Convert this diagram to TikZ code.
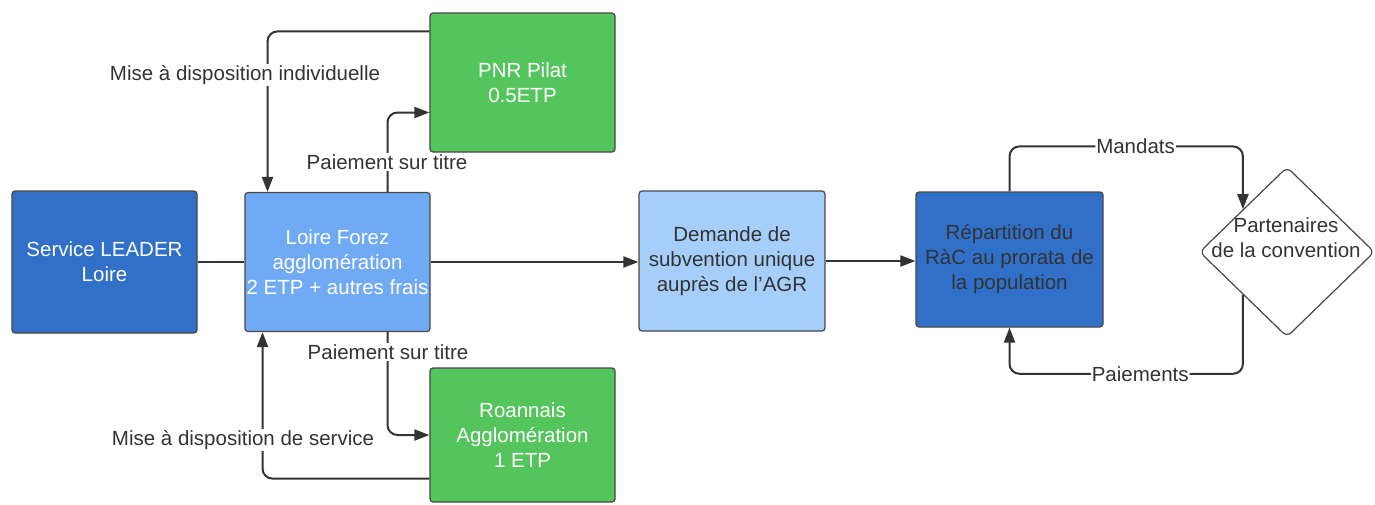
\documentclass[tikz,border=0pt]{standalone}
\usepackage{fontspec}
\setmainfont{Liberation Sans}
\usetikzlibrary{shapes.geometric,arrows.meta}
\definecolor{darkblue}{RGB}{48,112,200}
\definecolor{midblue}{RGB}{112,170,245}
\definecolor{paleblue}{RGB}{166,206,250}
\definecolor{boxgreen}{RGB}{84,196,92}
\definecolor{ink}{RGB}{51,51,51}
\tikzset{
  box/.style={draw=ink!90, line width=1.2pt, rounded corners=3pt, align=center,
    inner sep=0pt, font=\fontsize{20.5}{25}\selectfont},
  conn/.style={draw=ink, line width=2pt, rounded corners=10pt},
  arr/.style={conn, -{Triangle[length=15pt,width=11pt]}},
  lbl/.style={fill=white, text=ink, inner sep=1pt, font=\fontsize{20.5}{25}\selectfont},
}
\begin{document}
\begin{tikzpicture}[x=1pt,y=-1pt]
\useasboundingbox (0,0) rectangle (1375,504);
% boxes
\node[box, fill=darkblue, text=white, minimum width=185pt, minimum height=142pt] (sl) at (104.5,262) {Service LEADER\\Loire};
\node[box, fill=midblue, text=white, minimum width=185pt, minimum height=139pt] (lf) at (337.5,262) {Loire Forez\\agglomération\\2 ETP + autres frais};
\node[box, fill=boxgreen, text=white, minimum width=185pt, minimum height=139pt] (pnr) at (522.5,82.5) {PNR Pilat\\0.5ETP};
\node[box, fill=boxgreen, text=white, minimum width=185pt, minimum height=134pt] (ro) at (522.5,435) {Roannais\\Agglomération\\1 ETP};
\node[box, fill=paleblue, text=ink, minimum width=186pt, minimum height=140pt] (dem) at (732,261) {Demande de\\subvention unique\\auprès de l'AGR};
\node[box, fill=darkblue, text=ink, minimum width=187pt, minimum height=135pt] (rep) at (1009.5,259.5) {Répartition du\\RàC au prorata de\\la population};
\node[diamond, draw=ink!90, line width=1.2pt, rounded corners=6pt, minimum width=175pt, minimum height=170pt, inner sep=0pt] (dia) at (1287,252) {};
\node[align=center, text=ink, inner sep=0pt, font=\fontsize{20.5}{25}\selectfont] (diat) at (1286,238) {Partenaires\\de la convention};
% connectors
\draw[conn] (sl.east) -- (sl.east -| lf.west);
\draw[arr] (lf.east) -- (lf.east -| dem.west);
\draw[arr] (dem.east) -- (dem.east -| rep.west);
\draw[arr] ([yshift=-19pt]pnr.north west) -| ([xshift=-70pt]lf.north);
\draw[arr] ([xshift=50pt]lf.north) |- ([yshift=-30pt]pnr.west);
\draw[arr] ([xshift=50pt]lf.south) |- (ro.west);
\draw[arr] ([yshift=24pt]ro.south west) -| ([xshift=-75pt]lf.south);
\draw[arr] (rep.north) -- ++(0,-45) -| node[lbl, pos=0.27] (lm) {Mandats} (dia.north west);
\draw[arr] (dia.south west) -- ++(0,79) -| node[lbl, pos=0.22] (lp) {Paiements} (rep.south);
% labels
\node[lbl] (l1) at (245,75) {Mise à disposition individuelle};
\node[lbl] (l2) at (387,162) {Paiement sur titre};
\node[lbl] (l3) at (388,352) {Paiement sur titre};
\node[lbl] (l4) at (243,440) {Mise à disposition de service};
\end{tikzpicture}
\end{document}
